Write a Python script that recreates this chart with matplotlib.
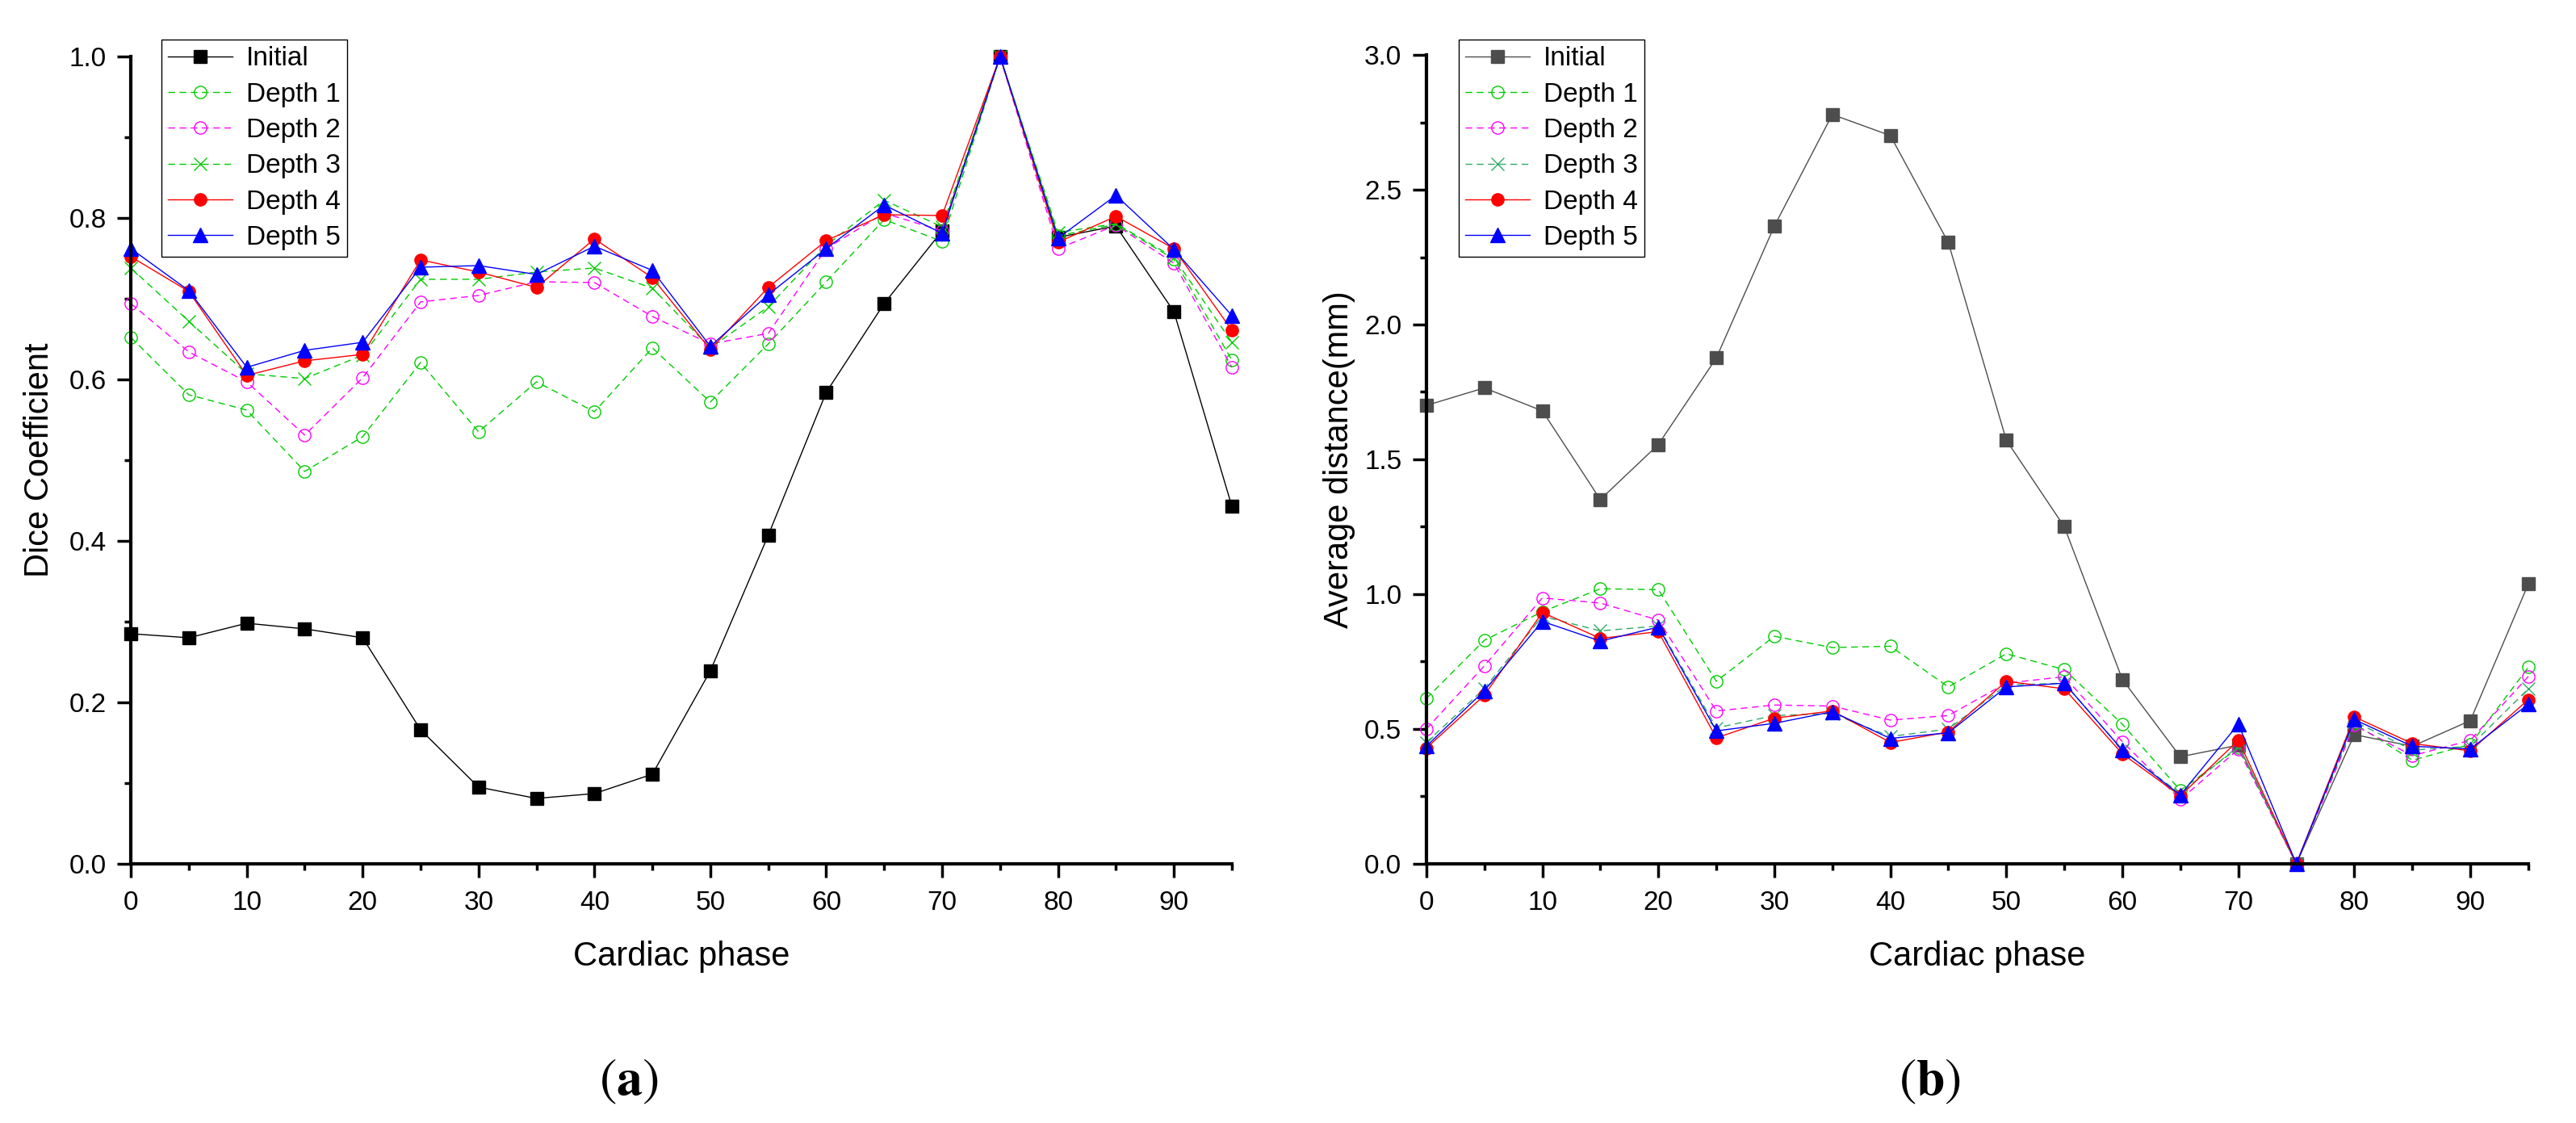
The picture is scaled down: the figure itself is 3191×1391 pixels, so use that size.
import numpy as np
import matplotlib
matplotlib.use("Agg")
import matplotlib.pyplot as plt
from matplotlib.ticker import MultipleLocator

plt.rcParams['font.family'] = ['Liberation Sans', 'DejaVu Sans']
plt.rcParams['mathtext.fontset'] = 'stix'

###
# DATA
###
phase = [0, 5, 10, 15, 20, 25, 30, 35, 40, 45, 50, 55, 60, 65, 70, 75, 80, 85, 90, 95]
labels = ["Initial", "Depth 1", "Depth 2", "Depth 3", "Depth 4", "Depth 5"]

# (a) Dice coefficient
dice_initial = [0.285, 0.280, 0.298, 0.291, 0.280, 0.166, 0.095, 0.081, 0.087, 0.111,
                0.239, 0.407, 0.584, 0.694, 0.784, 1.000, 0.776, 0.790, 0.684, 0.443]
dice_d1 = [0.652, 0.581, 0.562, 0.486, 0.529, 0.621, 0.535, 0.597, 0.560, 0.639,
           0.572, 0.644, 0.721, 0.798, 0.771, 1.000, 0.778, 0.792, 0.749, 0.624]
dice_d2 = [0.694, 0.634, 0.597, 0.531, 0.602, 0.696, 0.704, 0.721, 0.720, 0.678,
           0.644, 0.657, 0.762, 0.806, 0.784, 1.000, 0.762, 0.791, 0.744, 0.615]
dice_d3 = [0.738, 0.672, 0.607, 0.601, 0.630, 0.724, 0.724, 0.733, 0.738, 0.713,
           0.639, 0.690, 0.766, 0.822, 0.789, 1.000, 0.782, 0.793, 0.751, 0.646]
dice_d4 = [0.752, 0.709, 0.605, 0.623, 0.631, 0.748, 0.733, 0.714, 0.774, 0.726,
           0.637, 0.714, 0.772, 0.804, 0.803, 1.000, 0.770, 0.802, 0.762, 0.661]
dice_d5 = [0.762, 0.710, 0.615, 0.636, 0.646, 0.739, 0.741, 0.730, 0.765, 0.735,
           0.641, 0.705, 0.762, 0.816, 0.781, 1.000, 0.775, 0.828, 0.761, 0.679]

# (b) Average distance (mm)
dist_initial = [1.700, 1.765, 1.680, 1.351, 1.555, 1.876, 2.365, 2.779, 2.701, 2.304,
                1.571, 1.250, 0.684, 0.397, 0.440, 0.000, 0.479, 0.436, 0.531, 1.038]
dist_d1 = [0.613, 0.829, 0.935, 1.020, 1.017, 0.677, 0.844, 0.802, 0.807, 0.656,
           0.779, 0.720, 0.518, 0.272, 0.430, 0.000, 0.520, 0.384, 0.443, 0.729]
dist_d2 = [0.500, 0.734, 0.986, 0.967, 0.904, 0.567, 0.589, 0.585, 0.533, 0.550,
           0.670, 0.694, 0.453, 0.238, 0.425, 0.000, 0.514, 0.401, 0.458, 0.695]
dist_d3 = [0.450, 0.650, 0.918, 0.864, 0.882, 0.504, 0.550, 0.557, 0.472, 0.500,
           0.663, 0.670, 0.422, 0.260, 0.436, 0.000, 0.528, 0.422, 0.436, 0.649]
dist_d4 = [0.429, 0.625, 0.932, 0.836, 0.861, 0.467, 0.540, 0.567, 0.450, 0.489,
           0.677, 0.649, 0.408, 0.252, 0.458, 0.000, 0.545, 0.446, 0.419, 0.609]
dist_d5 = [0.436, 0.642, 0.899, 0.826, 0.878, 0.493, 0.521, 0.564, 0.465, 0.486,
           0.656, 0.670, 0.422, 0.255, 0.518, 0.000, 0.535, 0.436, 0.426, 0.592]

###
# STYLES
###
DASH = (0, (6, 4))
styles_a = [
    dict(color="black", ls="-", marker="s", mfc="black"),
    dict(color="#00cc00", ls=DASH, marker="o", mfc="none"),
    dict(color="#ff00ff", ls=DASH, marker="o", mfc="none"),
    dict(color="#00cc00", ls=DASH, marker="x", mfc="none"),
    dict(color="red", ls="-", marker="o", mfc="red"),
    dict(color="blue", ls="-", marker="^", mfc="blue"),
]
styles_b = [dict(s) for s in styles_a]
styles_b[0].update(color="#4d4d4d", mfc="#4d4d4d")
styles_b[3].update(color="#2eaa66")


def draw_panel(ax, series, styles, ylim, ymajor, ylabel, labelpad):
    for vals, st, lab in zip(series, styles, labels):
        ms = 12.5 if st["marker"] == "^" else 11
        ax.plot(phase, vals, color=st["color"], ls=st["ls"], lw=1.0,
                marker=st["marker"], ms=ms, mfc=st["mfc"], mec=st["color"],
                mew=1.0, label=lab, clip_on=False)
    ax.set_xlim(0, 95)
    ax.set_ylim(*ylim)
    ax.xaxis.set_major_locator(MultipleLocator(10))
    ax.xaxis.set_minor_locator(MultipleLocator(5))
    ax.yaxis.set_major_locator(MultipleLocator(ymajor))
    ax.yaxis.set_minor_locator(MultipleLocator(ymajor / 2))
    ax.yaxis.set_major_formatter(plt.FormatStrFormatter("%.1f"))
    for side in ("top", "right"):
        ax.spines[side].set_visible(False)
    for side in ("left", "bottom"):
        ax.spines[side].set_linewidth(3)
    ax.tick_params(which="major", direction="out", length=12, width=2.5,
                   labelsize=24, pad=10)
    ax.tick_params(which="minor", direction="out", length=5.5, width=2.5)
    ax.tick_params(axis="x", which="major", pad=12)
    ax.set_xlabel("Cardiac phase", fontsize=30, labelpad=22)
    ax.set_ylabel(ylabel, fontsize=30, labelpad=labelpad)


###
# MAIN PROGRAM
###
fig = plt.figure(figsize=(31.91, 13.91), dpi=100)
ax_a = fig.add_axes([0.0508, 0.2308, 0.4274, 0.7189])
ax_b = fig.add_axes([0.5537, 0.2308, 0.4278, 0.7203])

draw_panel(ax_a, [dice_initial, dice_d1, dice_d2, dice_d3, dice_d4, dice_d5],
           styles_a, (0, 1.0), 0.2, "Dice Coefficient", 12)
draw_panel(ax_b, [dist_initial, dist_d1, dist_d2, dist_d3, dist_d4, dist_d5],
           styles_b, (0, 3.0), 0.5, "Average distance(mm)", 8)

for ax, x0 in ((ax_a, 0.0627), (ax_b, 0.5663)):
    leg = ax.legend(loc="upper left", bbox_to_anchor=(x0, 0.9648),
                    bbox_transform=fig.transFigure, fontsize=24,
                    handlelength=2.4, handletextpad=0.5, labelspacing=0.4,
                    borderpad=0.25, borderaxespad=0, fancybox=False,
                    framealpha=1, edgecolor="black")
    leg.get_frame().set_linewidth(1.0)

fig.text(0.244, 0.037, r"$(\mathbf{a})$", fontsize=46, ha="center", va="center")
fig.text(0.749, 0.037, r"$(\mathbf{b})$", fontsize=46, ha="center", va="center")

fig.savefig("out.png", dpi=100)
